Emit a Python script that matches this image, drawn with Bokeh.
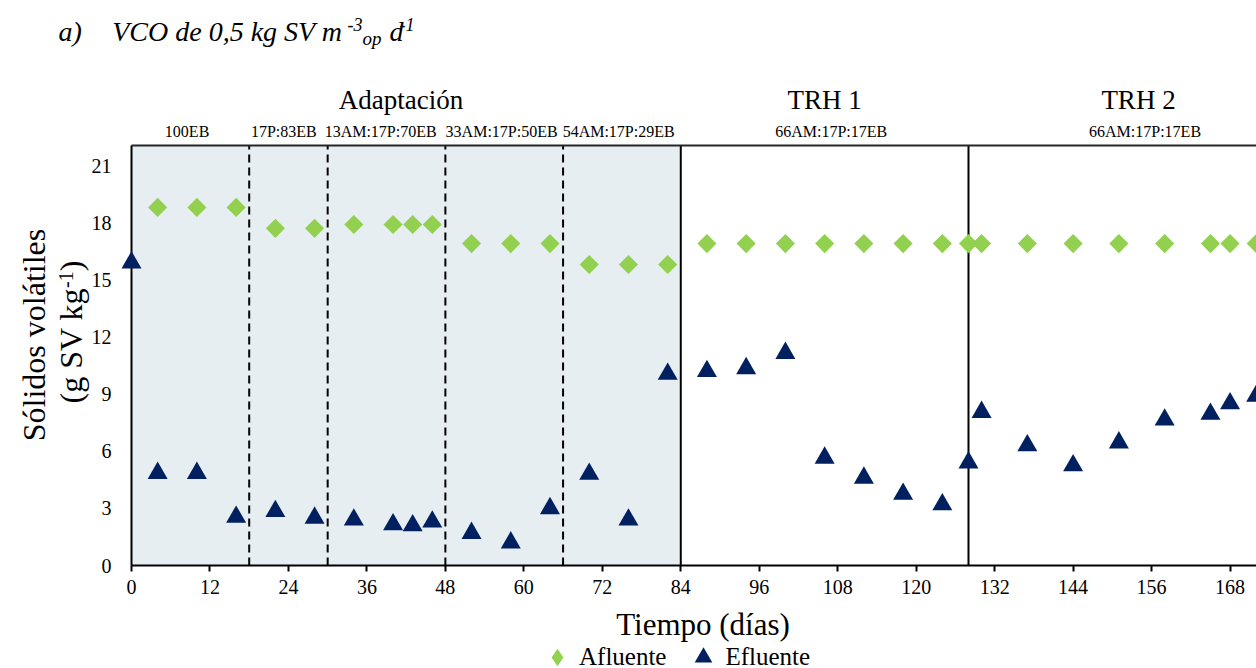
import math
from bokeh.plotting import figure
from bokeh.models import (Range1d, FixedTicker, Label, Legend, LegendItem,
                          LinearAxis, BoxAnnotation)
from bokeh.embed import file_html
from bokeh.resources import INLINE

# ---------------- data ----------------
dias_afluente = [4, 10, 16, 22, 28, 34, 40, 43, 46, 52, 58, 64, 70, 76, 82,
                 88, 94, 100, 106, 112, 118, 124, 128,
                 130, 137, 144, 151, 158, 165, 168, 172]
afluente = [18.8, 18.8, 18.8, 17.7, 17.7, 17.9, 17.9, 17.9, 17.9, 16.9, 16.9, 16.9, 15.8, 15.8, 15.8,
            16.9, 16.9, 16.9, 16.9, 16.9, 16.9, 16.9, 16.9,
            16.9, 16.9, 16.9, 16.9, 16.9, 16.9, 16.9, 16.9]

dias_efluente = [0, 4, 10, 16, 22, 28, 34, 40, 43, 46, 52, 58, 64, 70, 76, 82,
                 88, 94, 100, 106, 112, 118, 124, 128,
                 130, 137, 144, 151, 158, 165, 168, 172]
efluente = [15.9, 4.85, 4.85, 2.55, 2.85, 2.5, 2.4, 2.15, 2.1, 2.3, 1.7, 1.2, 3.0, 4.8, 2.4, 10.05,
            10.2, 10.35, 11.15, 5.65, 4.6, 3.75, 3.2, 5.4,
            8.05, 6.3, 5.25, 6.45, 7.65, 7.95, 8.5, 8.9]

etapas = ["Adaptación", "TRH 1", "TRH 2"]
etapas_inicio = [0, 84, 128]
etapas_fin = [84, 128, 180]

mezclas = ["100EB", "17P:83EB", "13AM:17P:70EB", "33AM:17P:50EB", "54AM:17P:29EB",
           "66AM:17P:17EB", "66AM:17P:17EB"]
mezclas_inicio = [0, 18, 30, 48, 66, 84, 128]
mezclas_fin = [18, 30, 48, 66, 84, 128, 180]

x_ticks = [0, 12, 24, 36, 48, 60, 72, 84, 96, 108, 120, 132, 144, 156, 168]
y_ticks = [0, 3, 6, 9, 12, 15, 18, 21]
y_max = 22.05

# ---------------- layout ----------------
GREEN = "#92D050"
NAVY = "#002060"
SHADE = "#E7EEF2"
FONT = "Liberation Serif"

W, H = 1256, 668
SX = 6.539          # px per day
SY = 420 / y_max    # px per unit
X0, Y0 = 131, 565   # canvas px of the origin
x_end = (W - X0) / SX

p = figure(width=W, height=H, title=None,
           x_range=Range1d(-X0 / SX, x_end), y_range=Range1d(-(H - Y0) / SY, Y0 / SY),
           output_backend="svg", toolbar_location=None,
           min_border=0, min_border_left=0, min_border_right=0, min_border_top=0, min_border_bottom=0,
           outline_line_color=None, background_fill_color="white", border_fill_color="white")
p.grid.visible = False

# x axis at y = 0
xa = p.below[0]
xa.fixed_location = 0
xa.ticker = FixedTicker(ticks=x_ticks)
xa.bounds = (0, x_end)
xa.axis_line_width = 2
xa.axis_line_color = "black"
xa.major_tick_line_width = 2
xa.major_tick_line_color = "black"
xa.major_tick_out = 6
xa.major_tick_in = 0
xa.minor_tick_line_color = None
xa.major_label_text_font = FONT
xa.major_label_text_font_size = "20px"
xa.major_label_text_color = "black"
xa.major_label_standoff = 8

# y axis at x = 0
ya = p.left[0]
ya.fixed_location = 0
ya.ticker = FixedTicker(ticks=y_ticks)
ya.bounds = (0, y_max)
ya.axis_line_width = 2
ya.axis_line_color = "black"
ya.major_tick_line_color = None
ya.minor_tick_line_color = None
ya.major_tick_out = 0
ya.major_tick_in = 0
ya.major_label_text_font = FONT
ya.major_label_text_font_size = "20px"
ya.major_label_text_color = "black"
ya.major_label_standoff = 20

# top border
top = LinearAxis(fixed_location=y_max, ticker=FixedTicker(ticks=[]), bounds=(0, x_end),
                 axis_line_width=2, axis_line_color="#262626",
                 major_tick_line_color=None, minor_tick_line_color=None,
                 major_label_text_font_size="0px")
p.add_layout(top, "above")

# shaded adaptation phase
p.add_layout(BoxAnnotation(left=etapas_inicio[0], right=etapas_fin[0], bottom=0, top=y_max,
                           fill_color=SHADE, fill_alpha=1.0, line_color=None, level="underlay"))

# phase dividers
dashed = [b for b in mezclas_inicio[1:] if b not in etapas_inicio]
solid = [b for b in etapas_inicio[1:]]
p.segment(x0=dashed, y0=[0] * len(dashed), x1=dashed, y1=[y_max] * len(dashed),
          line_color="black", line_width=2, line_dash="8 5")
p.segment(x0=solid, y0=[0] * len(solid), x1=solid, y1=[y_max] * len(solid),
          line_color="black", line_width=2)

# data marks
r_af = p.scatter(dias_afluente, afluente, marker="square", angle=math.pi / 4, size=13.5,
                 fill_color=GREEN, line_color=None, level="overlay")
r_ef = p.scatter(dias_efluente, efluente, marker="triangle", size=20,
                 fill_color=NAVY, line_color=None, level="overlay")
# legend symbol for Afluente (same data, hidden in the plot, shown as a diamond in the legend)
r_leg_af = p.scatter(dias_afluente, afluente, marker="diamond", size=18,
                     fill_color=GREEN, line_color=None, visible=False)

legend = Legend(items=[LegendItem(label="Afluente", renderers=[r_leg_af]),
                       LegendItem(label="Efluente", renderers=[r_ef])],
                orientation="horizontal", location=(535, -11.5),
                glyph_width=44, glyph_height=46, label_standoff=0, spacing=15,
                padding=0, margin=0, border_line_color=None, background_fill_alpha=0,
                inactive_fill_alpha=0,
                label_text_font=FONT, label_text_font_size="25px", label_text_color="black")
p.add_layout(legend)

K = 0.4  # baseline correction (fraction of font size)


def lab(txt, px, py, size, align="left", angle=0.0, style="normal"):
    if angle:
        px = px - K * size
    else:
        py = py - K * size
    p.add_layout(Label(x=(px - X0) / SX, y=(Y0 - py) / SY, text=txt,
                       text_font=FONT, text_font_size=f"{size}px", text_align=align,
                       text_baseline="alphabetic", angle=angle, text_font_style=style,
                       text_color="black"))


# headers
nudge_etapa = [-0.8, 0.0, 0.0]
for name, a, b, n in zip(etapas, etapas_inicio, etapas_fin, nudge_etapa):
    cx = (a + b) / 2 + n
    lab(name, X0 + cx * SX, 110, 27, align="center")
nudge_mezcla = [-0.5, -0.7, -0.9, -0.4, -0.5, 1.0, 1.0]
for name, a, b, n in zip(mezclas, mezclas_inicio, mezclas_fin, nudge_mezcla):
    cx = (a + b) / 2 + n
    lab(name, X0 + cx * SX, 137, 16, align="center")

# title
lab("a)", 58, 41.7, 28, style="italic")
lab("VCO de 0,5 kg SV m", 111.7, 41.7, 28, style="italic")
lab("-3", 347, 31, 18, style="italic")
lab("op", 362, 46, 19, style="italic")
lab("d", 389, 41.7, 28, style="italic")
lab("-1", 399, 31, 18, style="italic")

# axis titles
lab("Tiempo (días)", 702.5, 636, 31, align="center")
lab("Sólidos volátiles", 46.7, 334.5, 32, align="center", angle=math.pi / 2)
lab("(g SV kg", 83.3, 403, 32, angle=math.pi / 2)
lab("-1", 73.3, 287.4, 20, angle=math.pi / 2)
lab(")", 83.3, 270.7, 32, angle=math.pi / 2)

open("out.html", "w").write(file_html(p, INLINE))
